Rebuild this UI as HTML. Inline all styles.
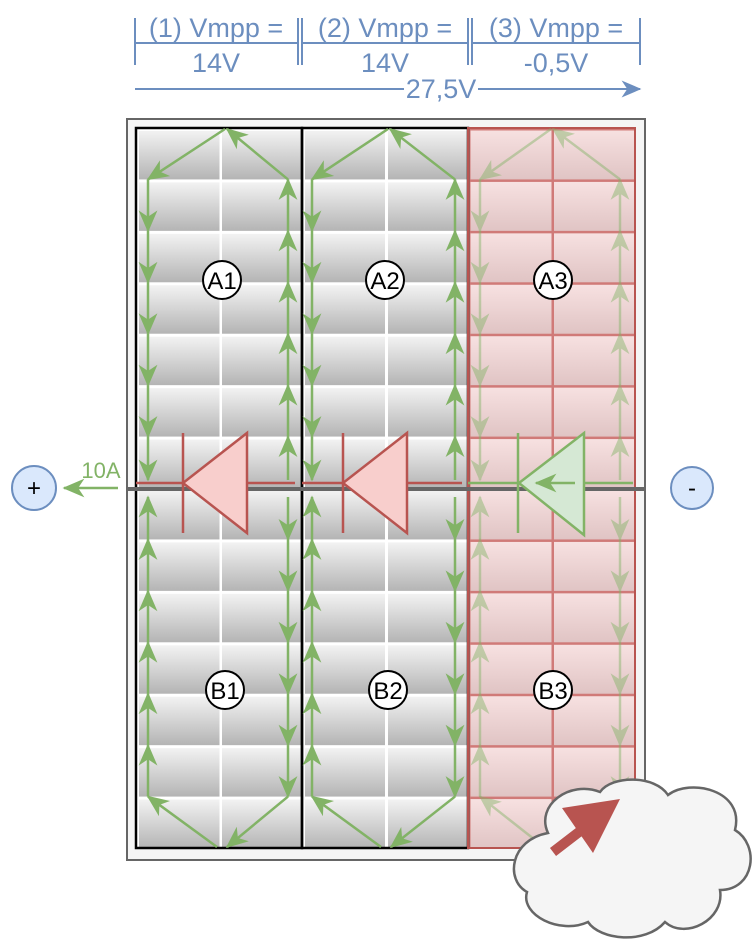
<!DOCTYPE html>
<html><head><meta charset="utf-8"><style>
html,body{margin:0;padding:0;background:#fff}
svg{display:block}
text{font-family:"Liberation Sans",sans-serif}
</style></head><body>
<svg id="s" width="755" height="948" viewBox="0 0 755 948" xmlns="http://www.w3.org/2000/svg">
<defs>
<linearGradient id="g" x1="0" y1="0" x2="0" y2="1"><stop offset="0" stop-color="#f6f6f6"/><stop offset="1" stop-color="#b4b4b4"/></linearGradient>
<linearGradient id="gp" x1="0" y1="0" x2="0" y2="1"><stop offset="0" stop-color="#f8e2e2"/><stop offset="1" stop-color="#e0c4c4"/></linearGradient>
<pattern id="cell" patternUnits="userSpaceOnUse" x="136" y="128" width="83" height="51.43">
<rect x="0" y="0" width="83" height="51.43" fill="url(#g)"/>
<path d="M0,1.5H83M1.5,0V51.43" stroke="#fff" stroke-width="3"/></pattern>
<pattern id="cellp" patternUnits="userSpaceOnUse" x="468" y="128" width="83.5" height="51.43">
<rect x="0" y="0" width="83.5" height="51.43" fill="url(#gp)"/>
<path d="M0,1.25H83.5M1.25,0V51.43" stroke="#d07a78" stroke-width="2.5"/></pattern>
<marker id="a" viewBox="0 0 14 12" refX="13" refY="6" markerWidth="22" markerHeight="19" markerUnits="userSpaceOnUse" orient="auto"><path d="M0,0 L14,6 L0,12 L4,6 Z" fill="#82b366"/></marker>
<marker id="ab" viewBox="0 0 14 12" refX="13" refY="6" markerWidth="20" markerHeight="17" markerUnits="userSpaceOnUse" orient="auto"><path d="M0,0 L14,6 L0,12 L4,6 Z" fill="#6c8ebf"/></marker>
</defs>
<!-- dimension -->
<g stroke="#6c8ebf" stroke-width="2" fill="none">
<path d="M135,18V65M298,18V65M302,18V65M468,18V65M472,18V65M640,18V65"/>
<path d="M135,43H298M302,43H468M472,43H640"/>
<path d="M135,89H640" marker-end="url(#ab)"/>
</g>
<g fill="#6c8ebf" font-size="27" text-anchor="middle">
<rect x="140" y="12" width="154" height="30" fill="#fff"/>
<rect x="306" y="12" width="158" height="30" fill="#fff"/>
<rect x="476" y="12" width="160" height="30" fill="#fff"/>
<text x="216" y="37">(1) Vmpp =</text><text x="385" y="37">(2) Vmpp =</text><text x="556" y="37">(3) Vmpp =</text>
<text x="216" y="72">14V</text><text x="385" y="72">14V</text><text x="556" y="72">-0,5V</text>
<rect x="404" y="76" width="74" height="26" fill="#fff"/>
<text x="441" y="98">27,5V</text>
</g>
<!-- frame -->
<rect x="127" y="119" width="518" height="741" fill="#f5f5f5" stroke="#666" stroke-width="2"/>
<rect x="136" y="128" width="332" height="720" fill="url(#cell)"/>
<rect x="468" y="128" width="167" height="720" fill="url(#cellp)"/>
<rect x="136" y="128" width="166" height="720" fill="none" stroke="#000" stroke-width="2.5"/>
<rect x="302" y="128" width="166" height="720" fill="none" stroke="#000" stroke-width="2.5"/>
<rect x="468" y="128" width="167" height="720" fill="none" stroke="#b85450" stroke-width="2"/>
<!-- center line -->
<path d="M127,489H645" stroke="#666" stroke-width="4"/>
<path d="M118,488H64" stroke="#82b366" stroke-width="2.5" marker-end="url(#a)"/>
<text x="101" y="478" font-size="22" fill="#82b366" text-anchor="middle">10A</text>
<circle cx="34" cy="488" r="22" fill="#dae8fc" stroke="#6c8ebf" stroke-width="2"/>
<text x="34" y="496" font-size="24" text-anchor="middle">+</text>
<circle cx="692" cy="488" r="21" fill="#dae8fc" stroke="#6c8ebf" stroke-width="2"/>
<text x="692" y="496" font-size="24" text-anchor="middle">-</text>
<g id="paths"></g>
<!-- diodes -->
<g stroke="#b85450" stroke-width="2.5">
<path d="M136,483H295M302,483H462" fill="none"/>
<path d="M183,433V533M343,433V533" fill="none"/>
<path d="M183,483L247,433V533Z M343,483L407,433V533Z" fill="#f8cecc"/>
</g>
<g stroke="#82b366" stroke-width="2.5">
<path d="M468,483H633M518,433V533" fill="none"/>
<path d="M519,483L584,433V535Z" fill="#d5e8d4"/>
<path d="M575,483H536" marker-end="url(#a)"/>
</g>
<!-- labels -->
<g font-size="24" text-anchor="middle">
<circle cx="222" cy="280" r="19" fill="#fff" stroke="#000" stroke-width="2"/><text x="222" y="289">A1</text>
<circle cx="385" cy="280" r="19" fill="#fff" stroke="#000" stroke-width="2"/><text x="385" y="289">A2</text>
<circle cx="553" cy="280" r="19" fill="#fff" stroke="#000" stroke-width="2"/><text x="553" y="289">A3</text>
<circle cx="225" cy="690" r="19" fill="#fff" stroke="#000" stroke-width="2"/><text x="225" y="699">B1</text>
<circle cx="388" cy="690" r="19" fill="#fff" stroke="#000" stroke-width="2"/><text x="388" y="699">B2</text>
<circle cx="553" cy="690" r="19" fill="#fff" stroke="#000" stroke-width="2"/><text x="553" y="699">B3</text>
</g>
<!-- cloud -->
<path d="M548,833 C535,805 570,780 600,792 C612,775 655,775 668,795 C690,778 745,790 735,830 C760,845 755,890 720,890 C725,920 685,940 665,922 C645,945 600,940 588,922 C560,935 520,915 527,892 C505,880 510,840 548,833 Z" fill="#f5f5f5" stroke="#666" stroke-width="2.5"/>
<path d="M553,852 L592,822" stroke="#b85450" stroke-width="10" fill="none"/>
<path d="M562,808 L620,799 L593,853 Z" fill="#b85450"/>
</svg>
<script>
(function(){
var g=document.getElementById('paths'),ns='http://www.w3.org/2000/svg';
function seg(x1,y1,x2,y2,op){var p=document.createElementNS(ns,'path');p.setAttribute('d','M'+x1+','+y1+'L'+x2+','+y2);p.setAttribute('stroke','#82b366');p.setAttribute('stroke-width','2.5');p.setAttribute('fill','none');p.setAttribute('marker-end','url(#a)');if(op)p.setAttribute('opacity',op);g.appendChild(p);}
var h=51.43;
var cols=[[148,288,225,222,''],[312,455,388,386,''],[480,620,551,549,'0.45']];
cols.forEach(function(c){var L=c[0],R=c[1],T=c[2],B=c[3],o=c[4];var top=128+h,bot=848-h;
seg(R,top,T+2,129,o);seg(T,129,L,top,o);
for(var i=1;i<7;i++){var y1=128+i*h,y2=(i==6)?480:128+(i+1)*h;seg(L,y1,L,y2,o);seg(R,y2,R,y1,o);}
for(var i=0;i<6;i++){var y1=(i==0)?497:488+i*h,y2=488+(i+1)*h;seg(L,y2,L,y1,o);seg(R,y1,R,y2,o);}
seg(R,bot,B+5,847,o);seg(B-5,847,L,bot,o);});
})();
</script>
</body></html>
